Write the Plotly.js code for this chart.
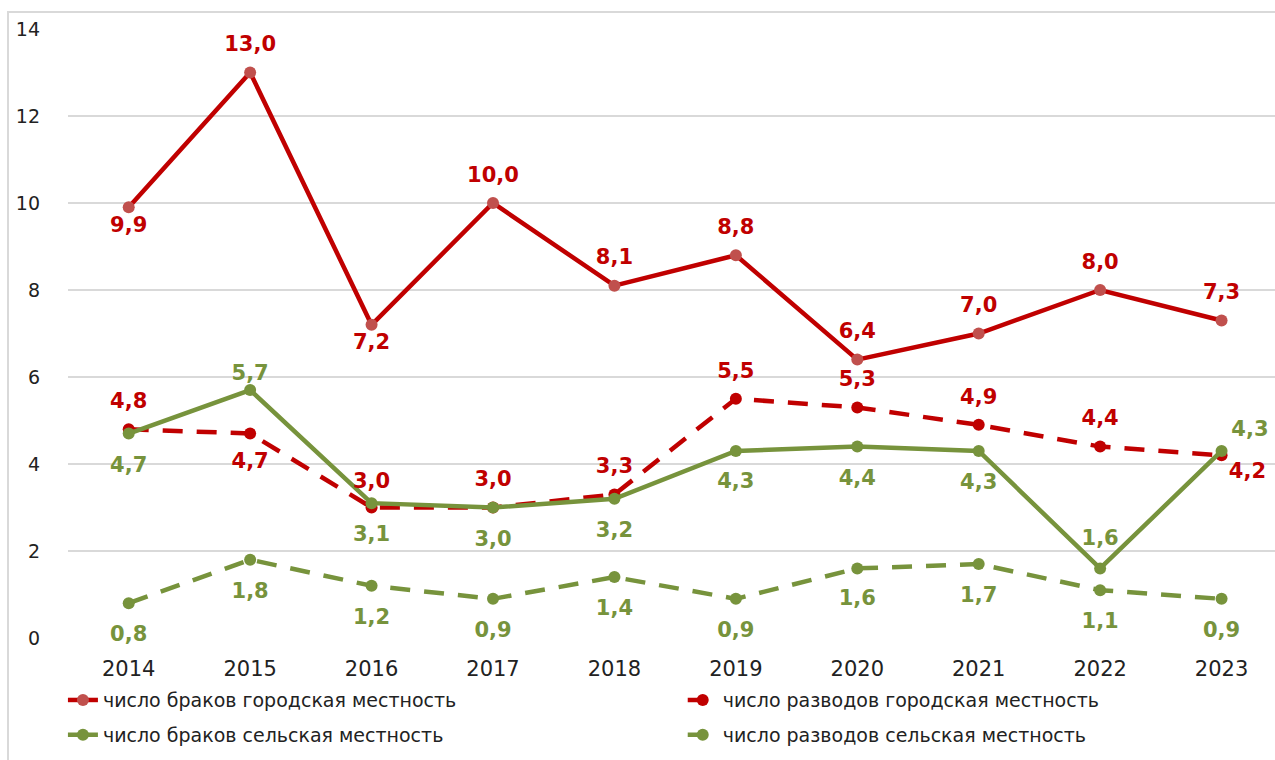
<!DOCTYPE html>
<html>
<head>
<meta charset="utf-8">
<script src="https://cdn.plot.ly/plotly-3.0.1.min.js"></script>
<style>html,body{margin:0;padding:0;background:#fff;}#chart{width:1275px;height:760px;}</style>
</head>
<body>
<div id="chart"></div>
<script>
const years = ['2014','2015','2016','2017','2018','2019','2020','2021','2022','2023'];
const marriagesUrban = [9.9, 13.0, 7.2, 10.0, 8.1, 8.8, 6.4, 7.0, 8.0, 7.3];
const divorcesUrban  = [4.8, 4.7, 3.0, 3.0, 3.3, 5.5, 5.3, 4.9, 4.4, 4.2];
const marriagesRural = [4.7, 5.7, 3.1, 3.0, 3.2, 4.3, 4.4, 4.3, 1.6, 4.3];
const divorcesRural  = [0.8, 1.8, 1.2, 0.9, 1.4, 0.9, 1.6, 1.7, 1.1, 0.9];
const seriesNames = [
  'число браков городская местность',
  'число разводов городская местность',
  'число браков сельская местность',
  'число разводов сельская местность'
];

// label placement (style only): position and spacing from the point
const posMU = ['bottom center','top center','bottom center','top center','top center','top center','top center','top center','top center','top center'];
const gapMU = [12, 24, 12, 24, 24, 24, 24, 24, 24, 24];
const posDU = ['top center','bottom center','top center','top center','top center','top center','top center','top center','top center','bottom right'];
const gapDU = [24, 28, 22, 24, 24, 24, 24, 24, 24, 10];
const posMR = ['bottom center','top center','bottom center','bottom center','bottom center','bottom center','bottom center','bottom center','top center','top right'];
const gapMR = [34, 6, 34, 34, 34, 32, 34, 34, 28, 14];
const posDR = ['bottom center','bottom center','bottom center','bottom center','bottom center','bottom center','bottom center','bottom center','bottom center','bottom center'];
const gapDR = [34, 34, 34, 34, 34, 34, 32, 34, 34, 34];

const fmt = arr => arr.map(v => v.toFixed(1).replace('.', ','));
const RED = '#C00000', RED_M = '#C0504D', GREEN = '#77933C';
const FONT = 'DejaVu Sans, Verdana, sans-serif';

function lineTrace(y, name, lineColor, markerColor, dash, width, legend) {
  return {
    x: years, y: y, name: name, type: 'scatter', mode: 'lines+markers',
    line: {color: lineColor, width: width, dash: dash},
    marker: {color: markerColor, size: 12, line: {width: 0}},
    cliponaxis: false, legend: legend
  };
}
function labelTrace(y, color, pos, gap) {
  return {
    x: years, y: y, type: 'scatter', mode: 'markers+text', showlegend: false,
    marker: {size: gap, color: 'rgba(0,0,0,0)', opacity: 0, line: {width: 0}},
    text: fmt(y), textposition: pos,
    textfont: {family: FONT, size: 21, color: color, weight: 'bold'},
    cliponaxis: false, hoverinfo: 'skip'
  };
}

const data = [
  lineTrace(marriagesUrban, seriesNames[0], RED, RED_M, 'solid', 4.5, 'legend'),
  lineTrace(divorcesUrban, seriesNames[1], RED, RED, '20px,14px', 4.5, 'legend2'),
  lineTrace(marriagesRural, seriesNames[2], GREEN, GREEN, 'solid', 4.5, 'legend3'),
  lineTrace(divorcesRural, seriesNames[3], GREEN, GREEN, '20px,14px', 4.5, 'legend4'),
  labelTrace(marriagesUrban, RED, posMU, gapMU),
  labelTrace(divorcesUrban, RED, posDU, gapDU),
  labelTrace(marriagesRural, GREEN, posMR, gapMR),
  labelTrace(divorcesRural, GREEN, posDR, gapDR)
];

const legendBase = {
  orientation: 'h', xanchor: 'left', yanchor: 'middle',
  font: {family: FONT, size: 19, color: '#222'},
  bgcolor: 'rgba(0,0,0,0)'
};
const colL = -0.0042, colR = 0.5093, rowT = -0.102, rowB = -0.159;

const layout = {
  width: 1275, height: 760,
  margin: {l: 68, r: 0, t: 29, b: 122, autoexpand: false},
  paper_bgcolor: '#fff', plot_bgcolor: '#fff',
  separators: ', ',
  font: {family: FONT, size: 19, color: '#222'},
  xaxis: {
    type: 'category', range: [-0.5, 9.44], showgrid: false, zeroline: false,
    showline: false, ticks: '', ticklabelstandoff: 16,
    tickfont: {family: FONT, size: 21, color: '#222'}
  },
  yaxis: {
    range: [0, 14], dtick: 2, showgrid: true, gridcolor: '#D9D9D9', gridwidth: 1.5,
    zeroline: false, showline: false, ticks: '', ticklabelstandoff: 27,
    tickfont: {family: FONT, size: 19, color: '#222'}
  },
  showlegend: true,
  legend: Object.assign({}, legendBase, {x: colL, y: rowT}),
  legend2: Object.assign({}, legendBase, {x: colR, y: rowT}),
  legend3: Object.assign({}, legendBase, {x: colL, y: rowB}),
  legend4: Object.assign({}, legendBase, {x: colR, y: rowB}),
  shapes: [{
    type: 'rect', xref: 'paper', yref: 'paper',
    x0: -0.0497, x1: 1.05, y0: -0.25, y1: 1.028,
    line: {color: '#D9D9D9', width: 2}, fillcolor: 'rgba(0,0,0,0)', layer: 'below'
  }]
};

Plotly.newPlot('chart', data, layout, {staticPlot: true});
</script>
</body>
</html>
